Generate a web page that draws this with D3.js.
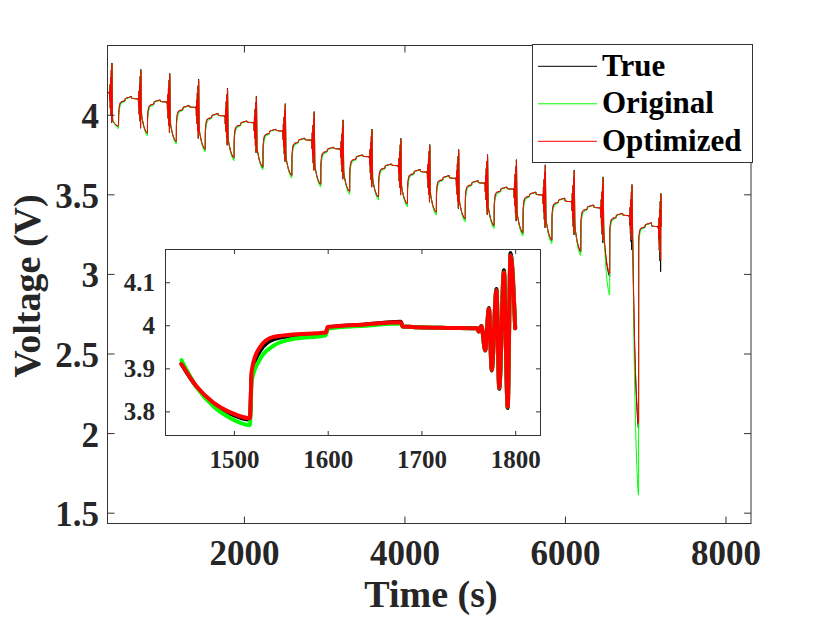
<!DOCTYPE html>
<html>
<head>
<meta charset="utf-8">
<script src="https://cdn.jsdelivr.net/npm/d3@7"></script>
<style>
  body { margin: 0; background: #fff; }
  svg text { font-family: "Liberation Serif", "Times New Roman", serif; font-weight: bold; }
</style>
</head>
<body>
<div id="chart"></div>
<script>
// ---- data ----
// one pulse test every 360 s; each cycle: pulse train, discharge, rest
const cycleTimes = [360, 720, 1080, 1440, 1800, 2160, 2520, 2880, 3240, 3600,
                    3960, 4320, 4680, 5040, 5400, 5760, 6120, 6480, 6840, 7200];
const startTime = 300;
const startFlat = 4.14;

// top of the pulse train
const peakTrue = [4.325, 4.285, 4.26, 4.224, 4.168, 4.118, 4.07, 4.02, 3.968, 3.91,
                  3.852, 3.813, 3.782, 3.75, 3.718, 3.686, 3.652, 3.61, 3.562, 3.506];
const peakEst  = [4.318, 4.278, 4.253, 4.217, 4.162, 4.112, 4.064, 4.014, 3.962, 3.904,
                  3.846, 3.807, 3.776, 3.744, 3.712, 3.68, 3.646, 3.604, 3.556, 3.5];
// bottom of the pulse train
const lowTrue = [3.95, 3.915, 3.885, 3.85, 3.808, 3.76, 3.705, 3.65, 3.595, 3.545,
                 3.495, 3.45, 3.41, 3.372, 3.332, 3.29, 3.245, 3.195, 3.15, 3.014];
const lowEst  = [3.955, 3.918, 3.888, 3.853, 3.811, 3.763, 3.708, 3.653, 3.598, 3.548,
                 3.498, 3.453, 3.414, 3.377, 3.338, 3.298, 3.255, 3.21, 3.213, 3.087];
// discharge: first value and lowest value
const startEst  = [3.965, 4.005, 3.952, 3.91, 3.853, 3.795, 3.74, 3.685, 3.64, 3.6,
                   3.555, 3.51, 3.468, 3.428, 3.39, 3.35, 3.31, 3.275, 3.226];
const startOrig = [3.978, 4.018, 3.965, 3.919, 3.866, 3.808, 3.753, 3.698, 3.653, 3.613,
                   3.568, 3.523, 3.481, 3.441, 3.403, 3.363, 3.323, 3.288, 3.239];
const troughTrue = [3.927, 3.882, 3.829, 3.781, 3.727, 3.668, 3.616, 3.561, 3.516, 3.481,
                    3.438, 3.385, 3.343, 3.3, 3.254, 3.208, 3.137, 2.985, 2.03];
const troughOrig = [3.914, 3.869, 3.816, 3.768, 3.712, 3.655, 3.602, 3.546, 3.5, 3.465,
                    3.423, 3.37, 3.328, 3.285, 3.238, 3.19, 3.115, 2.867, 1.61];
const troughOpt  = [3.93, 3.885, 3.832, 3.784, 3.73, 3.672, 3.62, 3.565, 3.52, 3.485,
                    3.443, 3.39, 3.348, 3.305, 3.26, 3.215, 3.145, 3.004, 2.06];
// rest levels after each discharge
const plateauV = [4.113, 4.092, 4.057, 4.007, 3.96, 3.908, 3.852, 3.795, 3.747, 3.69,
                  3.655, 3.617, 3.585, 3.545, 3.513, 3.475, 3.432, 3.38, 3.32];
const flatV    = [4.10, 4.08, 4.046, 3.993, 3.95, 3.898, 3.84, 3.785, 3.736, 3.68,
                  3.64, 3.60, 3.57, 3.532, 3.496, 3.454, 3.415, 3.366, 3.297];

// shape of one cycle (1440-1800 s)
const pulseDt   = [-40, -39, -36, -32, -28, -25, -20, -17, -12, -8, -5, 0];
const pulseFrac = [0, -0.04, 0.03, -0.28, 0.27, -0.53, 0.52, -0.76, 0.77, -1, 1, 0];
const decayDt   = [4, 20, 38, 56, 77];
const decayFrac = [0, 0.41, 0.71, 0.89, 1];
const recoveryDt = [79, 88, 102, 120, 158, 160, 200, 238];
const recTrue = [-0.118, -0.066, -0.04, -0.032, -0.026, -0.012, -0.005, 0.001];
const recOrig = [-0.135, -0.085, -0.055, -0.04, -0.03, -0.015, -0.008, -0.003];
const recOpt  = [-0.112, -0.057, -0.034, -0.029, -0.024, -0.011, -0.005, 0];
const restDt  = [240, 280];
const restOff = [0.004, 0.001];

const seriesNames = ["True", "Original", "Optimized"];
const seriesColors = ["#000000", "#00ff00", "#ff0000"];

const xTicks = [2000, 4000, 6000, 8000];
const yTicks = [1.5, 2, 2.5, 3, 3.5, 4];
const insetXTicks = [1500, 1600, 1700, 1800];
const insetYTicks = [3.8, 3.9, 4, 4.1];

function buildSeries(s) {
    let pts = [{ t: startTime, v: startFlat }];
    let prevFlat = startFlat;
    cycleTimes.forEach((t0, i) => {
        let pk = s.peak[i], lo = s.low[i];
        pulseDt.forEach((dt, j) => {
            let f = pulseFrac[j];
            let v = f >= 0 ? prevFlat + f * (pk - prevFlat) : prevFlat + f * (prevFlat - lo);
            pts.push({ t: t0 + dt, v: v });
        });
        if (i >= flatV.length) return; // recording stops after the last pulse train
        decayDt.forEach((dt, j) => {
            pts.push({ t: t0 + dt, v: s.start[i] + decayFrac[j] * (s.trough[i] - s.start[i]) });
        });
        recoveryDt.forEach((dt, j) => pts.push({ t: t0 + dt, v: plateauV[i] + s.rec[j] }));
        restDt.forEach((dt, j) => pts.push({ t: t0 + dt, v: flatV[i] + restOff[j] }));
        prevFlat = flatV[i];
    });
    return pts;
}

const series = [
    buildSeries({ peak: peakTrue, low: lowTrue, start: startEst, trough: troughTrue, rec: recTrue }),
    buildSeries({ peak: peakEst, low: lowEst, start: startOrig, trough: troughOrig, rec: recOrig }),
    buildSeries({ peak: peakEst, low: lowEst, start: startEst, trough: troughOpt, rec: recOpt })
];

// ---- layout ----
const W = 830, H = 623;
const axisColor = "#333333";
const main = { left: 107.5, right: 751, top: 45.5, bottom: 523.5 };
const inset = { left: 165.5, right: 540.5, top: 249.5, bottom: 435.5 };

const svg = d3.select("#chart").append("svg")
    .attr("width", W)
    .attr("height", H);

const x = d3.scaleLinear().domain([300, 8318]).range([main.left, main.right]);
const y = d3.scaleLinear().domain([1.432, 4.435]).range([main.bottom, main.top]);

const xi = d3.scaleLinear().domain([1427, 1827]).range([inset.left, inset.right]);
const yi = d3.scaleLinear().domain([3.744, 4.176]).range([inset.bottom, inset.top]);

svg.append("clipPath").attr("id", "clip-main")
    .append("rect")
    .attr("x", main.left).attr("y", main.top)
    .attr("width", main.right - main.left).attr("height", main.bottom - main.top);

svg.append("clipPath").attr("id", "clip-inset")
    .append("rect")
    .attr("x", inset.left).attr("y", inset.top)
    .attr("width", inset.right - inset.left).attr("height", inset.bottom - inset.top);

// ---- main plot ----
const line = d3.line().x(d => x(d.t)).y(d => y(d.v)).curve(d3.curveMonotoneX);

svg.append("g")
    .attr("clip-path", "url(#clip-main)")
    .selectAll("path")
    .data(series)
    .enter().append("path")
    .attr("d", line)
    .attr("fill", "none")
    .attr("stroke", (d, i) => seriesColors[i])
    .attr("stroke-width", 1)
    .attr("stroke-linejoin", "round");

function styleAxis(g, fontSize) {
    g.attr("font-family", null).attr("font-size", fontSize).attr("color", axisColor);
    g.select(".domain").remove();
    g.selectAll(".tick line").attr("stroke-width", 1);
}

svg.append("g")
    .attr("transform", `translate(0,${main.bottom})`)
    .call(d3.axisBottom(x).tickValues(xTicks).tickSizeInner(-7).tickSizeOuter(0).tickFormat(d3.format("d")))
    .call(g => styleAxis(g, 35))
    .call(g => g.selectAll(".tick text").attr("y", 41.5).attr("dy", null).attr("fill", "#262626"));

svg.append("g")
    .attr("transform", `translate(0,${main.top})`)
    .call(d3.axisTop(x).tickValues(xTicks).tickSizeInner(-7).tickSizeOuter(0).tickFormat(""))
    .call(g => styleAxis(g, 35));

svg.append("g")
    .attr("transform", `translate(${main.left},0)`)
    .call(d3.axisLeft(y).tickValues(yTicks).tickSizeInner(-7).tickSizeOuter(0).tickFormat(d => String(d)))
    .call(g => styleAxis(g, 35))
    .call(g => g.selectAll(".tick text").attr("x", -8.5).attr("y", 13).attr("dy", null).attr("fill", "#262626"));

svg.append("g")
    .attr("transform", `translate(${main.right},0)`)
    .call(d3.axisRight(y).tickValues(yTicks).tickSizeInner(-7).tickSizeOuter(0).tickFormat(""))
    .call(g => styleAxis(g, 35));

svg.append("rect")
    .attr("x", main.left).attr("y", main.top)
    .attr("width", main.right - main.left).attr("height", main.bottom - main.top)
    .attr("fill", "none")
    .attr("stroke", axisColor)
    .attr("stroke-width", 1);

svg.append("text")
    .attr("x", 431).attr("y", 607)
    .attr("text-anchor", "middle")
    .attr("font-size", 38)
    .attr("fill", "#262626")
    .text("Time (s)");

svg.append("text")
    .attr("transform", "translate(39.5,286) rotate(-90)")
    .attr("text-anchor", "middle")
    .attr("font-size", 38)
    .attr("fill", "#262626")
    .text("Voltage (V)");

// ---- legend ----
const legend = svg.append("g").attr("class", "legend");

legend.append("rect")
    .attr("x", 532.5).attr("y", 44.5)
    .attr("width", 220).attr("height", 118)
    .attr("fill", "#fff")
    .attr("stroke", axisColor)
    .attr("stroke-width", 1);

const legendRows = legend.selectAll(".legend-row")
    .data(seriesNames)
    .enter().append("g")
    .attr("class", "legend-row")
    .attr("transform", (d, i) => `translate(0,${66.3 + i * 37.5})`);

legendRows.append("line")
    .attr("x1", 538).attr("x2", 597)
    .attr("stroke", (d, i) => seriesColors[i])
    .attr("stroke-width", 1);

legendRows.append("text")
    .attr("x", 602).attr("y", 9.5)
    .attr("font-size", 31)
    .attr("fill", "#000")
    .text(d => d);

// ---- inset (zoom of 1444-1800 s) ----
svg.append("rect")
    .attr("x", inset.left).attr("y", inset.top)
    .attr("width", inset.right - inset.left).attr("height", inset.bottom - inset.top)
    .attr("fill", "#fff");

const lineInset = d3.line().x(d => xi(d.t)).y(d => yi(d.v)).curve(d3.curveMonotoneX);

svg.append("g")
    .attr("clip-path", "url(#clip-inset)")
    .selectAll("path")
    .data(series.map(s => s.filter(d => d.t >= 1444 && d.t <= 1800)))
    .enter().append("path")
    .attr("d", lineInset)
    .attr("fill", "none")
    .attr("stroke", (d, i) => seriesColors[i])
    .attr("stroke-width", 4)
    .attr("stroke-linejoin", "round")
    .attr("stroke-linecap", "round");

svg.append("g")
    .attr("transform", `translate(0,${inset.bottom})`)
    .call(d3.axisBottom(xi).tickValues(insetXTicks).tickSizeInner(-4.5).tickSizeOuter(0).tickFormat(d3.format("d")))
    .call(g => styleAxis(g, 25))
    .call(g => g.selectAll(".tick text").attr("y", 32.8).attr("dy", null).attr("fill", "#262626"));

svg.append("g")
    .attr("transform", `translate(0,${inset.top})`)
    .call(d3.axisTop(xi).tickValues(insetXTicks).tickSizeInner(-4.5).tickSizeOuter(0).tickFormat(""))
    .call(g => styleAxis(g, 25));

svg.append("g")
    .attr("transform", `translate(${inset.left},0)`)
    .call(d3.axisLeft(yi).tickValues(insetYTicks).tickSizeInner(-4.5).tickSizeOuter(0).tickFormat(d => String(d)))
    .call(g => styleAxis(g, 25))
    .call(g => g.selectAll(".tick text").attr("x", -10.5).attr("y", 8.5).attr("dy", null).attr("fill", "#262626"));

svg.append("g")
    .attr("transform", `translate(${inset.right},0)`)
    .call(d3.axisRight(yi).tickValues(insetYTicks).tickSizeInner(-4.5).tickSizeOuter(0).tickFormat(""))
    .call(g => styleAxis(g, 25));

svg.append("rect")
    .attr("x", inset.left).attr("y", inset.top)
    .attr("width", inset.right - inset.left).attr("height", inset.bottom - inset.top)
    .attr("fill", "none")
    .attr("stroke", axisColor)
    .attr("stroke-width", 1);
</script>
</body>
</html>
